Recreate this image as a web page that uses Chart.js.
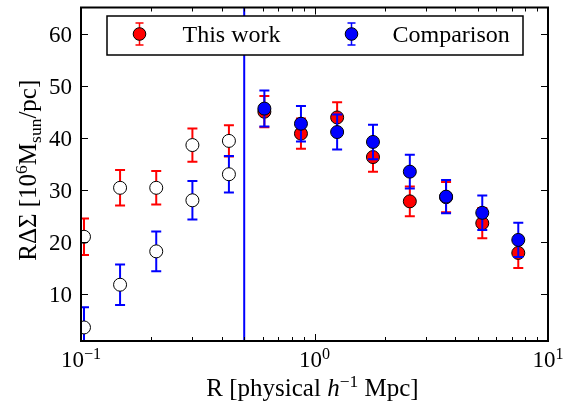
<!DOCTYPE html>
<html><head><meta charset="utf-8">
<script src="https://cdn.jsdelivr.net/npm/chart.js@4/dist/chart.umd.min.js"></script>
<style>html,body{margin:0;padding:0;background:#fff}canvas{display:block}</style>
</head><body>
<canvas id="c" width="573" height="405"></canvas>
<script>
// ---- data ----
const radius        = [0.103, 0.147, 0.21, 0.30, 0.43, 0.61, 0.875, 1.25, 1.78, 2.56, 3.66, 5.23, 7.46];
const thisWork      = [21.0, 30.4, 30.4, 38.6, 39.4, 45.0, 40.8, 43.9, 36.3, 27.8, 28.6, 23.6, 17.9];
const thisWorkErr   = [3.5, 3.4, 3.2, 3.2, 3.0, 3.0, 2.9, 2.9, 2.8, 2.85, 2.9, 2.9, 2.9];
const comparison    = [3.6, 11.8, 18.2, 28.0, 33.0, 45.6, 42.7, 41.1, 39.2, 33.5, 28.7, 25.6, 20.4];
const comparisonErr = [3.9, 3.9, 3.8, 3.7, 3.5, 3.45, 3.4, 3.35, 3.3, 3.25, 3.2, 3.3, 3.3];
const seriesNames   = ['This work', 'Comparison'];
const cutRadius     = 0.5;
const xMajorTicks   = [0.1, 1, 10];
const xTickExps     = ['\u22121', '0', '1'];
const xMinorTicks   = [0.2,0.3,0.4,0.5,0.6,0.7,0.8,0.9,2,3,4,5,6,7,8,9];
const yTicks        = [10, 20, 30, 40, 50, 60];
const xRange        = [0.1, 10];
const yRange        = [1, 65];

const FONT = '"Liberation Serif", "Times New Roman", serif';
const RED = '#ff0000', BLUE = '#0000ff';

function setFont(ctx, size, it) { ctx.font = (it ? 'italic ' : '') + size + 'px ' + FONT; }
function partSize(p, size) { return p.s ? size * 0.7 : size; }
function richWidth(ctx, parts, size) {
  let w = 0;
  parts.forEach(p => { setFont(ctx, partSize(p, size), p.i); w += ctx.measureText(p.t).width; });
  return w;
}
function drawRich(ctx, parts, x, y, size, align) {
  const w = richWidth(ctx, parts, size);
  let cx = align === 'center' ? x - w / 2 : (align === 'right' ? x - w : x);
  ctx.textAlign = 'left'; ctx.textBaseline = 'alphabetic';
  parts.forEach(p => {
    const fs = partSize(p, size);
    setFont(ctx, fs, p.i);
    let dy = 0;
    if (p.s === 'sup') dy = -size * 0.36;
    if (p.s === 'sub') dy = size * 0.2;
    ctx.fillText(p.t, cx, y + dy);
    cx += ctx.measureText(p.t).width;
  });
}

function drawErr(ctx, px, yLo, yHi, cap, color, lw) {
  ctx.strokeStyle = color; ctx.lineWidth = lw;
  ctx.beginPath();
  ctx.moveTo(px, yLo); ctx.lineTo(px, yHi);
  ctx.moveTo(px - cap, yLo); ctx.lineTo(px + cap, yLo);
  ctx.moveTo(px - cap, yHi); ctx.lineTo(px + cap, yHi);
  ctx.stroke();
}

const decor = {
  id: 'decor',
  beforeDatasetsDraw(chart) {
    const { ctx, chartArea: a, scales: { x } } = chart;
    const px = x.getPixelForValue(cutRadius);
    ctx.save();
    ctx.strokeStyle = BLUE; ctx.lineWidth = 2;
    ctx.beginPath(); ctx.moveTo(px, a.top); ctx.lineTo(px, a.bottom); ctx.stroke();
    ctx.restore();
  },
  beforeDatasetDraw(chart, args) {
    const ds = chart.data.datasets[args.index];
    const { ctx, chartArea: a, scales: { x, y } } = chart;
    ctx.save();
    ctx.beginPath(); ctx.rect(a.left, a.top, a.width, a.height); ctx.clip();
    ds.data.forEach((p, i) => {
      const px = x.getPixelForValue(p.x);
      drawErr(ctx, px, y.getPixelForValue(p.y - ds.err[i]), y.getPixelForValue(p.y + ds.err[i]), 5, ds.errColor, 2);
    });
    ctx.restore();
  },
  afterDraw(chart) {
    const { ctx, chartArea: a, scales: { x, y } } = chart;
    ctx.save();
    // ticks
    ctx.strokeStyle = '#000'; ctx.lineWidth = 1;
    ctx.beginPath();
    yTicks.forEach(v => {
      const py = Math.round(y.getPixelForValue(v)) + 0.5;
      ctx.moveTo(a.left, py); ctx.lineTo(a.left + 7, py);
      ctx.moveTo(a.right, py); ctx.lineTo(a.right - 7, py);
    });
    xMajorTicks.forEach(v => {
      const px = Math.round(x.getPixelForValue(v)) + 0.5;
      ctx.moveTo(px, a.bottom); ctx.lineTo(px, a.bottom - 7);
      ctx.moveTo(px, a.top); ctx.lineTo(px, a.top + 7);
    });
    xMinorTicks.forEach(v => {
      const px = Math.round(x.getPixelForValue(v)) + 0.5;
      ctx.moveTo(px, a.bottom); ctx.lineTo(px, a.bottom - 4);
      ctx.moveTo(px, a.top); ctx.lineTo(px, a.top + 4);
    });
    ctx.stroke();
    // frame
    ctx.lineWidth = 2;
    ctx.strokeRect(a.left, a.top, a.width, a.height);
    // tick labels
    ctx.fillStyle = '#000';
    yTicks.forEach(v => {
      const py = y.getPixelForValue(v);
      drawRich(ctx, [{ t: String(v) }], a.left - 9, py + 8, 23, 'right');
    });
    xMajorTicks.forEach((v, i) => {
      const px = x.getPixelForValue(v);
      drawRich(ctx, [{ t: '10' }, { t: xTickExps[i], s: 'sup' }], px, a.bottom + 26, 23, 'center');
    });
    // axis titles
    drawRich(ctx, [{ t: 'R [physical ' }, { t: 'h', i: true }, { t: '\u22121', s: 'sup' }, { t: ' Mpc]' }],
      (a.left + a.right) / 2 - 2, 396, 25, 'center');
    ctx.save();
    ctx.translate(36, (a.top + a.bottom) / 2 - 4);
    ctx.rotate(-Math.PI / 2);
    drawRich(ctx, [{ t: 'R\u0394\u03A3 [10' }, { t: '6', s: 'sup' }, { t: 'M' }, { t: 'sun', s: 'sub' }, { t: '/pc]' }],
      0, 0, 25, 'center');
    ctx.restore();
    // legend
    const lx = 107, ly = 16, lw = 416, lh = 39;
    ctx.fillStyle = '#fff'; ctx.fillRect(lx, ly, lw, lh);
    ctx.strokeStyle = '#000'; ctx.lineWidth = 1.5; ctx.strokeRect(lx, ly, lw, lh);
    const entries = [
      { mx: 139.5, tx: 182.5, c: RED, label: seriesNames[0] },
      { mx: 351.5, tx: 392.5, c: BLUE, label: seriesNames[1] }
    ];
    entries.forEach(e => {
      drawErr(ctx, e.mx, 45, 23, 4, e.c, 1.5);
      ctx.beginPath(); ctx.arc(e.mx, 34, 6.3, 0, Math.PI * 2);
      ctx.fillStyle = e.c; ctx.fill();
      ctx.strokeStyle = '#000'; ctx.lineWidth = 1; ctx.stroke();
      ctx.fillStyle = '#000';
      drawRich(ctx, [{ t: e.label }], e.tx, 42, 24, 'left');
    });
    ctx.restore();
  }
};

function makeData(vals) { return radius.map((r, i) => ({ x: r, y: vals[i] })); }
function fills(color) { return radius.map(r => r < cutRadius ? '#ffffff' : color); }

new Chart(document.getElementById('c'), {
  type: 'scatter',
  data: {
    datasets: [
      { label: seriesNames[0], data: makeData(thisWork), err: thisWorkErr, errColor: RED,
        pointBackgroundColor: fills(RED), pointBorderColor: '#000', pointBorderWidth: 1,
        pointRadius: 6.5, pointHoverRadius: 6.5, order: 2, clip: 0 },
      { label: seriesNames[1], data: makeData(comparison), err: comparisonErr, errColor: BLUE,
        pointBackgroundColor: fills(BLUE), pointBorderColor: '#000', pointBorderWidth: 1,
        pointRadius: 6.5, pointHoverRadius: 6.5, order: 1, clip: 0 }
    ]
  },
  options: {
    responsive: false,
    animation: false,
    layout: { padding: { left: 81, top: 5, right: 25, bottom: 64 } },
    scales: {
      x: { type: 'logarithmic', min: xRange[0], max: xRange[1], display: false },
      y: { type: 'linear', min: yRange[0], max: yRange[1], display: false }
    },
    plugins: { legend: { display: false }, tooltip: { enabled: false } },
    events: []
  },
  plugins: [decor]
});
</script>
</body></html>
